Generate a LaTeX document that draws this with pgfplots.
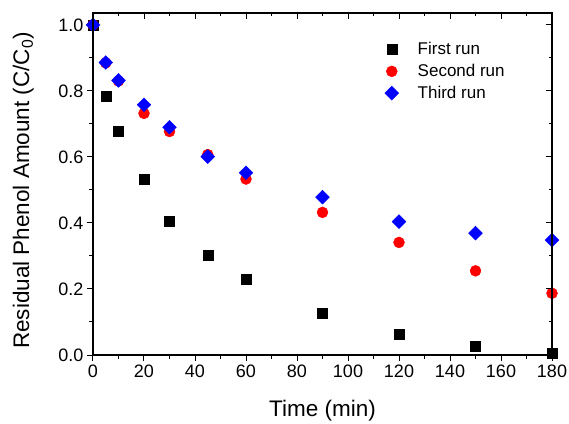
\documentclass[border=0pt]{standalone}
\usepackage{fontspec}
\setmainfont{Liberation Sans}
\usepackage{pgfplots}
\pgfplotsset{compat=1.18}

\pgfplotsset{
  runframe/.style={
    scale only axis,
    width=459pt, height=342pt,
    xmin=0, xmax=180, ymin=0, ymax=1.036,
    xtick={0,20,...,180},
    ytick={0,0.2,...,1.0},
    minor x tick num=1, minor y tick num=1,
    major tick length=6pt, minor tick length=3.5pt,
    tick style={black, line width=1pt},
    axis line style={black, line width=1.3pt},
  },
}

\begin{document}
\begin{tikzpicture}
\begin{axis}[
    runframe,
    tick align=outside,
    xtick pos=lower, ytick pos=left,
    /pgf/number format/assume math mode=true,
    yticklabel style={/pgf/number format/fixed, /pgf/number format/fixed zerofill, /pgf/number format/precision=1},
    ticklabel style={font=\fontsize{18}{20}\selectfont},
    xlabel={Time (min)},
    ylabel={Residual Phenol Amount (C/C\textsubscript{0})},
    label style={font=\fontsize{22.5}{25}\selectfont},
    xlabel style={at={(axis description cs:0.5,-0.1798)}, anchor=base},
    ylabel style={at={(axis description cs:-0.1394,0.481)}, anchor=base},
    legend style={at={(axis cs:113.2,0.959)}, anchor=north west, draw=none, fill=none,
        font=\fontsize{17}{19}\selectfont, row sep=4pt,
        /tikz/every odd column/.append style={column sep=17pt}},
    legend cell align=left,
    clip=false,
]
\addplot[only marks, mark=square*, mark size=5pt, black] coordinates {
(0,1.0) (5,0.785) (10,0.679) (20,0.533) (30,0.406) (45,0.303) (60,0.230)
(90,0.128) (120,0.064) (150,0.027) (180,0.005)};
\addplot[only marks, mark=*, mark size=5.5pt, red, mark options={draw=red, fill=red}] coordinates {
(0,1.0) (5,0.885) (10,0.830) (20,0.732) (30,0.677) (45,0.607) (60,0.533)
(90,0.432) (120,0.341) (150,0.255) (180,0.187)};
\addplot[only marks, mark=square*, mark size=4.9pt, blue, mark options={rotate=45, draw=blue, fill=blue}] coordinates {
(0,1.0) (5,0.886) (10,0.832) (20,0.758) (30,0.690) (45,0.601) (60,0.552)
(90,0.478) (120,0.404) (150,0.369) (180,0.348)};
\legend{First run, Second run, Third run}
\end{axis}
\begin{axis}[
    runframe,
    tick align=inside,
    xtick pos=upper, ytick pos=right,
    xticklabels={}, yticklabels={},
]
\end{axis}
\pgfresetboundingbox
\path (-93pt,-68pt) rectangle (476pt,355pt);
\end{tikzpicture}
\end{document}
